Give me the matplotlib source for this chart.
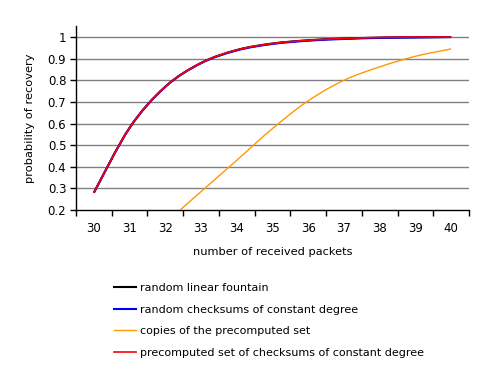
import matplotlib
matplotlib.use("Agg")
import matplotlib.pyplot as plt
from matplotlib.path import Path
from matplotlib.patches import PathPatch
from matplotlib.lines import Line2D
import numpy as np

packets = [30, 31, 32, 33, 34, 35, 36, 37, 38, 39, 40]
random_linear = [0.28, 0.58, 0.77, 0.88, 0.94, 0.97, 0.985, 0.993, 0.997, 0.999, 1.0]
random_checksums = [0.28, 0.58, 0.77, 0.879, 0.938, 0.968, 0.983, 0.991, 0.996, 0.998, 1.0]
copies_packets = [32, 33, 34, 35, 36, 37, 38, 39, 40]
copies_precomputed = [0.14, 0.285, 0.43, 0.577, 0.705, 0.80, 0.862, 0.911, 0.945]
precomputed_checksums = [0.28, 0.58, 0.77, 0.88, 0.94, 0.97, 0.985, 0.993, 0.998, 1.0, 1.0]
y_ticks = [0.2, 0.3, 0.4, 0.5, 0.6, 0.7, 0.8, 0.9, 1.0]


def smooth_path(xs, ys):
    # Catmull-Rom style smoothed path (like Excel's smoothed line), drawn as Bezier curves
    p = np.column_stack([xs, ys]).astype(float)
    n = len(p)
    verts = [p[0]]
    codes = [Path.MOVETO]
    for i in range(n - 1):
        p0 = p[i - 1] if i > 0 else p[i]
        p1 = p[i]
        p2 = p[i + 1]
        p3 = p[i + 2] if i + 2 < n else p[i + 1]
        c1 = p1 + (p2 - p0) / 6.0
        c2 = p2 - (p3 - p1) / 6.0
        verts += [c1, c2, p2]
        codes += [Path.CURVE4] * 3
    return Path(verts, codes)


fig = plt.figure(figsize=(4.85, 3.69), dpi=100)
ax = fig.add_axes([76/485, 1-210/369, (469-76)/485, (210-26)/369])

for y in y_ticks[1:]:
    ax.axhline(y, color="#808080", lw=1, zorder=0)

series = [
    (packets, random_linear, "black", 1.5, "random linear fountain"),
    (packets, random_checksums, "#0000FF", 1.5, "random checksums of constant degree"),
    (copies_packets, copies_precomputed, "#FF9900", 1.0, "copies of the precomputed set"),
    (packets, precomputed_checksums, "#FF0000", 1.2, "precomputed set of checksums of constant degree"),
]
handles = []
for xs, ys, c, lw, lab in series:
    patch = PathPatch(smooth_path(xs, ys), facecolor="none", edgecolor=c, lw=lw, zorder=3)
    ax.add_patch(patch)
    handles.append(Line2D([], [], color=c, lw=lw, label=lab))

ax.set_xlim(29.5, 40.5)
ax.set_ylim(0.2, 1.051)
ax.set_xticks(packets)
ax.set_xticklabels([str(p) for p in packets])
ax.set_xticks(np.arange(29.5, 41, 1.0), minor=True)
ax.tick_params(axis="x", which="major", length=0, pad=9, labelsize=8.5)
ax.tick_params(axis="x", which="minor", length=4, direction="out", width=1)
ax.set_yticks(y_ticks)
ax.set_yticklabels(["0.2", "0.3", "0.4", "0.5", "0.6", "0.7", "0.8", "0.9", "1"])
ax.tick_params(axis="y", length=4, direction="out", width=1, labelsize=8.5, pad=3)

for s in ["top", "right"]:
    ax.spines[s].set_visible(False)
for s in ["left", "bottom"]:
    ax.spines[s].set_linewidth(1)

ax.set_xlabel("number of received packets", fontsize=8.2, labelpad=8)
ax.set_ylabel("probability of recovery", fontsize=8.2, labelpad=9)

fig.legend(handles=handles, loc="upper left", bbox_to_anchor=(114/485, 1-283/369),
           frameon=False, fontsize=8, handlelength=2.0, handletextpad=0.35,
           labelspacing=1.05, borderaxespad=0, borderpad=0)

fig.savefig("out.png", dpi=100)
